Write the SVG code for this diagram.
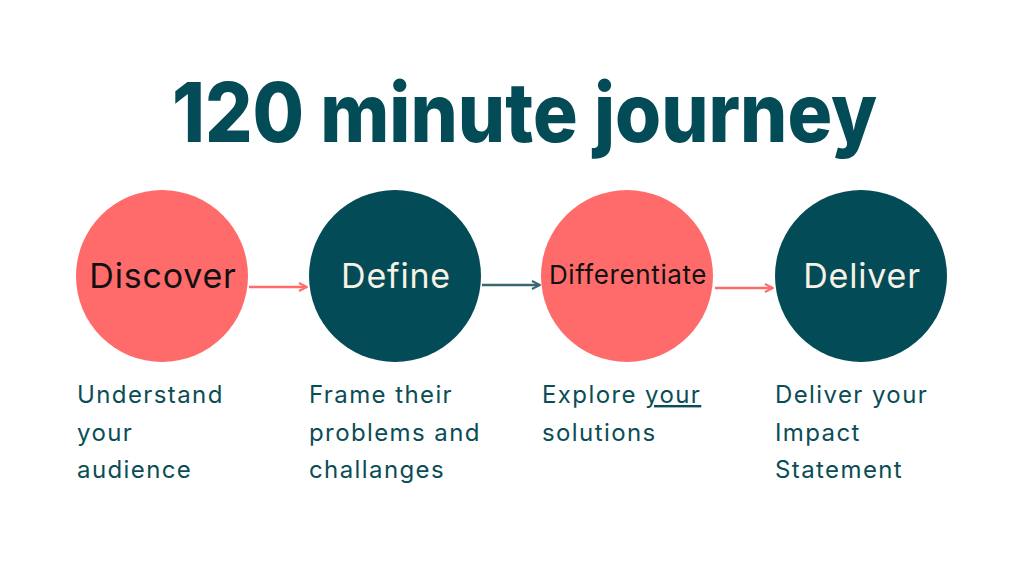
<svg xmlns="http://www.w3.org/2000/svg" width="1025" height="576" viewBox="0 0 1025 576">
<defs>
<style>
.title{font-family:Inter,"Noto Sans",sans-serif;font-weight:800;font-size:82px;fill:#034b56}
.coral{fill:#ff6b6b}
.teal{fill:#034b56}
.lbl{font-family:Inter,"Noto Sans",sans-serif;font-size:34px;text-anchor:middle;letter-spacing:0.8px}
.dark{fill:#111}
.light{fill:#f7f1e6}
.desc{font-family:Inter,"Noto Sans",sans-serif;font-size:24px;fill:#0b4d56;letter-spacing:1.4px}
</style>
<marker id="ac" viewBox="0 0 10 10" refX="9" refY="5" markerWidth="10" markerHeight="10" markerUnits="userSpaceOnUse" orient="auto"><path d="M1 1 L9 5 L1 9" fill="none" stroke="#ff6b6b" stroke-width="2"/></marker>
<marker id="at" viewBox="0 0 10 10" refX="9" refY="5" markerWidth="10" markerHeight="10" markerUnits="userSpaceOnUse" orient="auto"><path d="M1 1 L9 5 L1 9" fill="none" stroke="#3a6870" stroke-width="2"/></marker>
</defs>
<rect width="1025" height="576" fill="#fff"/>
<text class="title" x="172" y="142" textLength="705" lengthAdjust="spacingAndGlyphs">120 minute journey</text>
<g id="connectors" fill="none" stroke-width="2.5">
<line x1="249" y1="287" x2="307" y2="287" stroke="#ff6b6b" marker-end="url(#ac)"/>
<line x1="482" y1="285" x2="540" y2="285" stroke="#3a6870" marker-end="url(#at)"/>
<line x1="715" y1="288" x2="773" y2="288" stroke="#ff6b6b" marker-end="url(#ac)"/>
</g>
<g id="discover">
<circle class="coral" cx="162" cy="276" r="86"/>
<text class="lbl dark" x="163" y="288">Discover</text>
<text class="desc" x="77" y="403">Understand</text>
<text class="desc" x="77" y="441">your</text>
<text class="desc" x="77" y="478">audience</text>
</g>
<g id="define">
<circle class="teal" cx="395" cy="276" r="86"/>
<text class="lbl light" x="396" y="288">Define</text>
<text class="desc" x="309" y="403">Frame their</text>
<text class="desc" x="309" y="441">problems and</text>
<text class="desc" x="309" y="478">challanges</text>
</g>
<g id="differentiate">
<circle class="coral" cx="627" cy="276" r="86"/>
<text class="lbl dark" x="628" y="284" style="font-size:26px;letter-spacing:0.6px">Differentiate</text>
<text class="desc" x="542" y="403">Explore <tspan text-decoration="underline">your</tspan></text>
<text class="desc" x="542" y="441">solutions</text>
</g>
<g id="deliver">
<circle class="teal" cx="861" cy="276" r="86"/>
<text class="lbl light" x="862" y="288">Deliver</text>
<text class="desc" x="775" y="403">Deliver your</text>
<text class="desc" x="775" y="441">Impact</text>
<text class="desc" x="775" y="478">Statement</text>
</g>
</svg>
